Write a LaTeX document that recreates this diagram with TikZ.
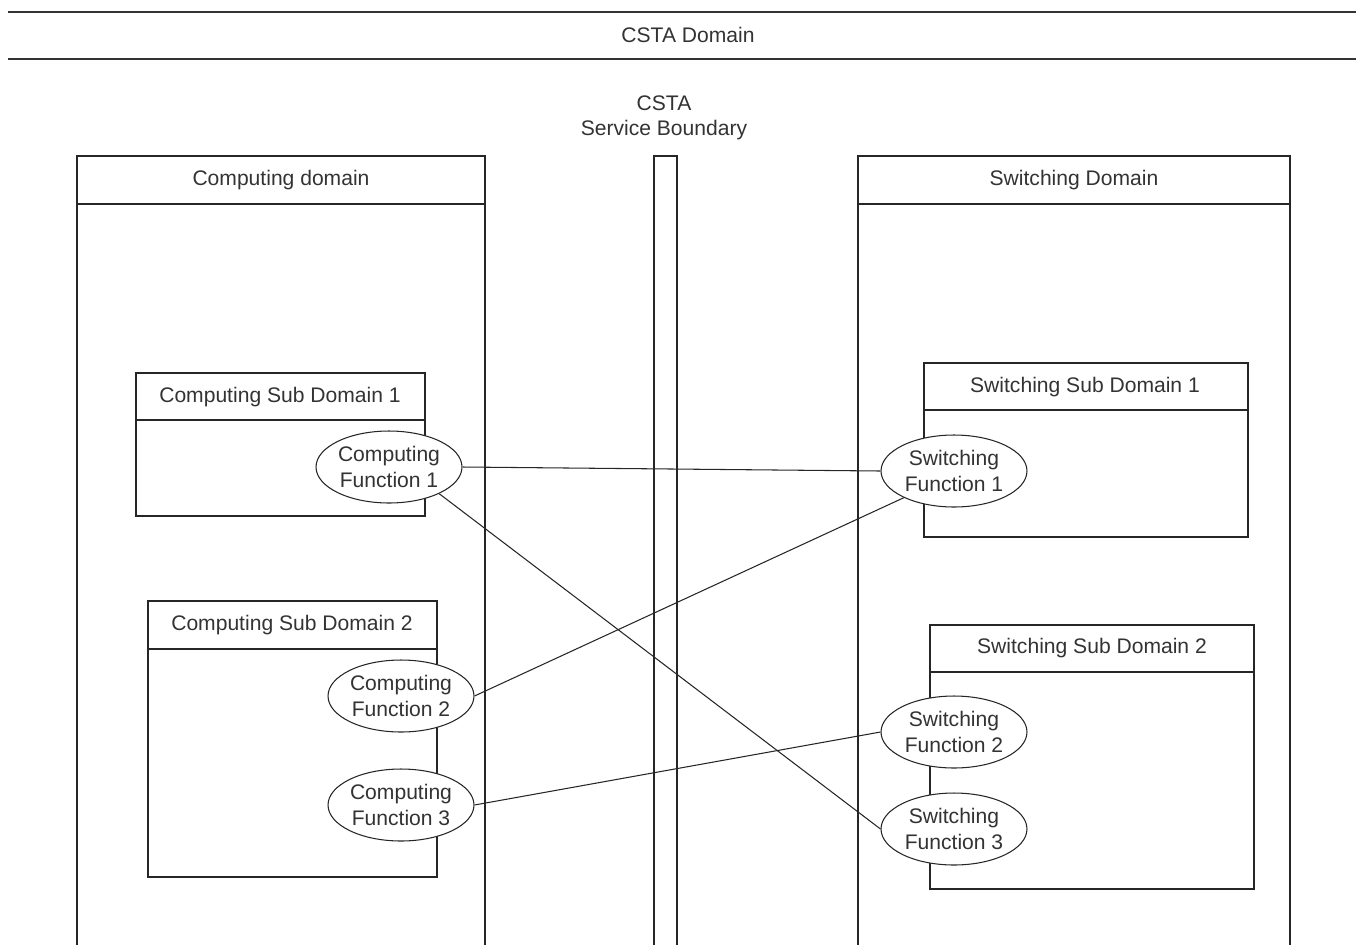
\documentclass[tikz,border=0pt]{standalone}
\usepackage{fontspec}
\setmainfont{Liberation Sans}
\usepackage{tikz}
\usetikzlibrary{shapes}
\tikzstyle{tsText} = [
    text=black!80,
    font=\fontsize{12}{14.5}\selectfont,
    align=center,
    inner sep=0pt
]
\tikzstyle{tsBox} = [
    draw=black!85,
    line width=0.6pt]
\tikzstyle{tsBand} = [
    draw=black!80,
    line width=1.6pt]
\tikzstyle{tsFunction} = [
    ellipse,
    tsText,
    tsBox,
    fill=white,
    minimum width=2.92cm,
    minimum height=1.44cm]

\begin{document}
\begin{tikzpicture}[x=0.02cm, y=-0.02cm]

        \useasboundingbox (0,0) rectangle (1356,944);
        \clip (0,0) rectangle (1356,944);

        % CSTA domain band
        \draw[tsBand] (8,12) -- (1360,12);
        \draw[tsBand] (8,59) -- (1360,59);
        \node[tsText] (csta) at (688,35) {CSTA Domain};

        % computing domain
        \draw[tsBox] (77,960) -- (77,156) -- (485,156) -- (485,960);
        \draw[tsBox] (77,204) -- (485,204);
        \node[tsText] (compdom) at (281,180) {Computing domain};

        % service boundary
        \draw[tsBox] (654,960) -- (654,156) -- (677,156) -- (677,960);
        \node[tsText] (boundary) at (664,118) {CSTA\\Service Boundary};

        % switching domain
        \draw[tsBox] (858,960) -- (858,156) -- (1290,156) -- (1290,960);
        \draw[tsBox] (858,204) -- (1290,204);
        \node[tsText] (switchdom) at (1074,180) {Switching Domain};

        % sub domains
        \draw[tsBox] (136,373) rectangle (425,516);
        \draw[tsBox] (136,420) -- (425,420);
        \node[tsText] (compsub1) at (280,397) {Computing Sub Domain 1};

        \draw[tsBox] (148,601) rectangle (437,877);
        \draw[tsBox] (148,649) -- (437,649);
        \node[tsText] (compsub2) at (292,625) {Computing Sub Domain 2};

        \draw[tsBox] (924,363) rectangle (1248,537);
        \draw[tsBox] (924,410) -- (1248,410);
        \node[tsText] (switchsub1) at (1085,387) {Switching Sub Domain 1};

        \draw[tsBox] (930,625) rectangle (1254,889);
        \draw[tsBox] (930,672) -- (1254,672);
        \node[tsText] (switchsub2) at (1092,648) {Switching Sub Domain 2};

        % functions
        \node[tsFunction] (cf1) at (389,467) {Computing\\Function 1};
        \node[tsFunction] (cf2) at (401,696) {Computing\\Function 2};
        \node[tsFunction] (cf3) at (401,805) {Computing\\Function 3};

        \node[tsFunction] (sf1) at (954,471) {Switching\\Function 1};
        \node[tsFunction] (sf2) at (954,732) {Switching\\Function 2};
        \node[tsFunction] (sf3) at (954,829) {Switching\\Function 3};

        % links
        \draw[tsBox] (cf1.east) -- (sf1.west);
        \draw[tsBox] (cf1.332) -- (sf3.west);
        \draw[tsBox] (cf2.east) -- (sf1.208);
        \draw[tsBox] (cf3.east) -- (sf2.west);

\end{tikzpicture}
\end{document}
